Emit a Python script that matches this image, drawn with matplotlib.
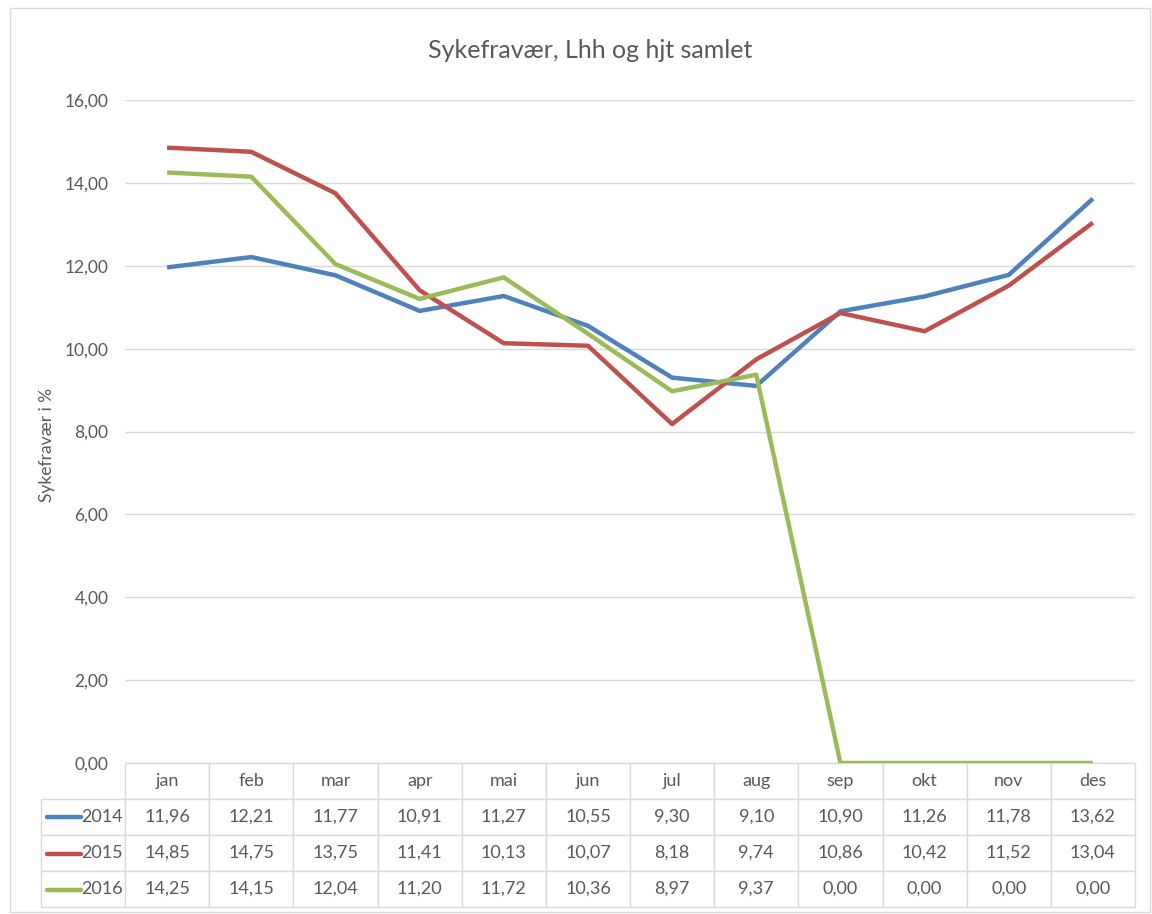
import matplotlib as mpl
mpl.use('Agg')
import matplotlib.pyplot as plt
from matplotlib.lines import Line2D
from matplotlib.patches import Rectangle

maaneder = ["jan", "feb", "mar", "apr", "mai", "jun", "jul", "aug", "sep", "okt", "nov", "des"]
aar = ["2014", "2015", "2016"]
verdier_2014 = [11.96, 12.21, 11.77, 10.91, 11.27, 10.55, 9.30, 9.10, 10.90, 11.26, 11.78, 13.62]
verdier_2015 = [14.85, 14.75, 13.75, 11.41, 10.13, 10.07, 8.18, 9.74, 10.86, 10.42, 11.52, 13.04]
verdier_2016 = [14.25, 14.15, 12.04, 11.20, 11.72, 10.36, 8.97, 9.37, 0.00, 0.00, 0.00, 0.00]
yticks = [0, 2, 4, 6, 8, 10, 12, 14, 16]

farger = ["#4F81BD", "#C0504D", "#9BBB59"]
serier = [verdier_2014, verdier_2015, verdier_2016]
tekstfarge = "#595959"
plt.rcParams['font.family'] = ['Lato', 'DejaVu Sans']

def fmt(v):
	return "{:.2f}".format(v).replace(".", ",")

fig = plt.figure(figsize=(11.52, 9.14), dpi=100)
fig.patches.append(Rectangle((10/1152, 2/914), 1140/1152, 904/914, transform=fig.transFigure,
	fill=False, edgecolor="#D9D9D9", linewidth=1))

ax = fig.add_axes([125/1152, 1 - 763/914, 1010/1152, 663/914])
x = list(range(len(maaneder)))
for serie, farge, lab in zip(serier, farger, aar):
	ax.plot(x, serie, color=farge, linewidth=3.2, label=lab, solid_capstyle='butt')

ax.set_xlim(-0.5, len(maaneder) - 0.5)
ax.set_ylim(0, 16)
ax.set_yticks(yticks)
ax.set_yticklabels([fmt(v) for v in yticks], color=tekstfarge, fontsize=12.5)
ax.set_xticks([])
ax.tick_params(axis='y', length=0, pad=12)
ax.grid(axis='y', color="#D9D9D9", linewidth=1)
ax.set_axisbelow(True)
for s in ax.spines.values():
	s.set_visible(False)

fig.text(590/1152, 1 - 50/914, "Sykefravær, Lhh og hjt samlet", ha='center', va='center',
	fontsize=18, color=tekstfarge)
fig.text(47/1152, 1 - 445/914, "Sykefravær i %", rotation=90, ha='center', va='center',
	fontsize=12.5, color=tekstfarge)

# datatabell under grafen, første kolonne er årstall med linjenøkkel
celler = [[a] + [fmt(v) for v in serie] for a, serie in zip(aar, serier)]
h = 144 / 663
w0 = 84 / 1010
tab = ax.table(cellText=celler, colLabels=[""] + maaneder,
	cellLoc='center', colLoc='center', bbox=[-w0, -h, 1 + w0, h])
tab.auto_set_font_size(False)
for (r, c), cell in tab.get_celld().items():
	cell.set_edgecolor("#D9D9D9")
	cell.set_linewidth(1)
	cell.get_text().set_color(tekstfarge)
	cell.get_text().set_fontsize(13)
	if r == 0 and c == 0:
		cell.visible_edges = ''
	elif c == 0:
		cell.get_text().set_horizontalalignment('right')
		cell._loc = 'right'
		cell.PAD = 0.03

for i, farge in enumerate(farger):
	yy = 1 - (817 + i * 36.5) / 914
	fig.add_artist(Line2D([47/1152, 81/1152], [yy, yy], color=farge, linewidth=3.2,
		transform=fig.transFigure, solid_capstyle='round'))

fig.savefig("out.png", dpi=100)
